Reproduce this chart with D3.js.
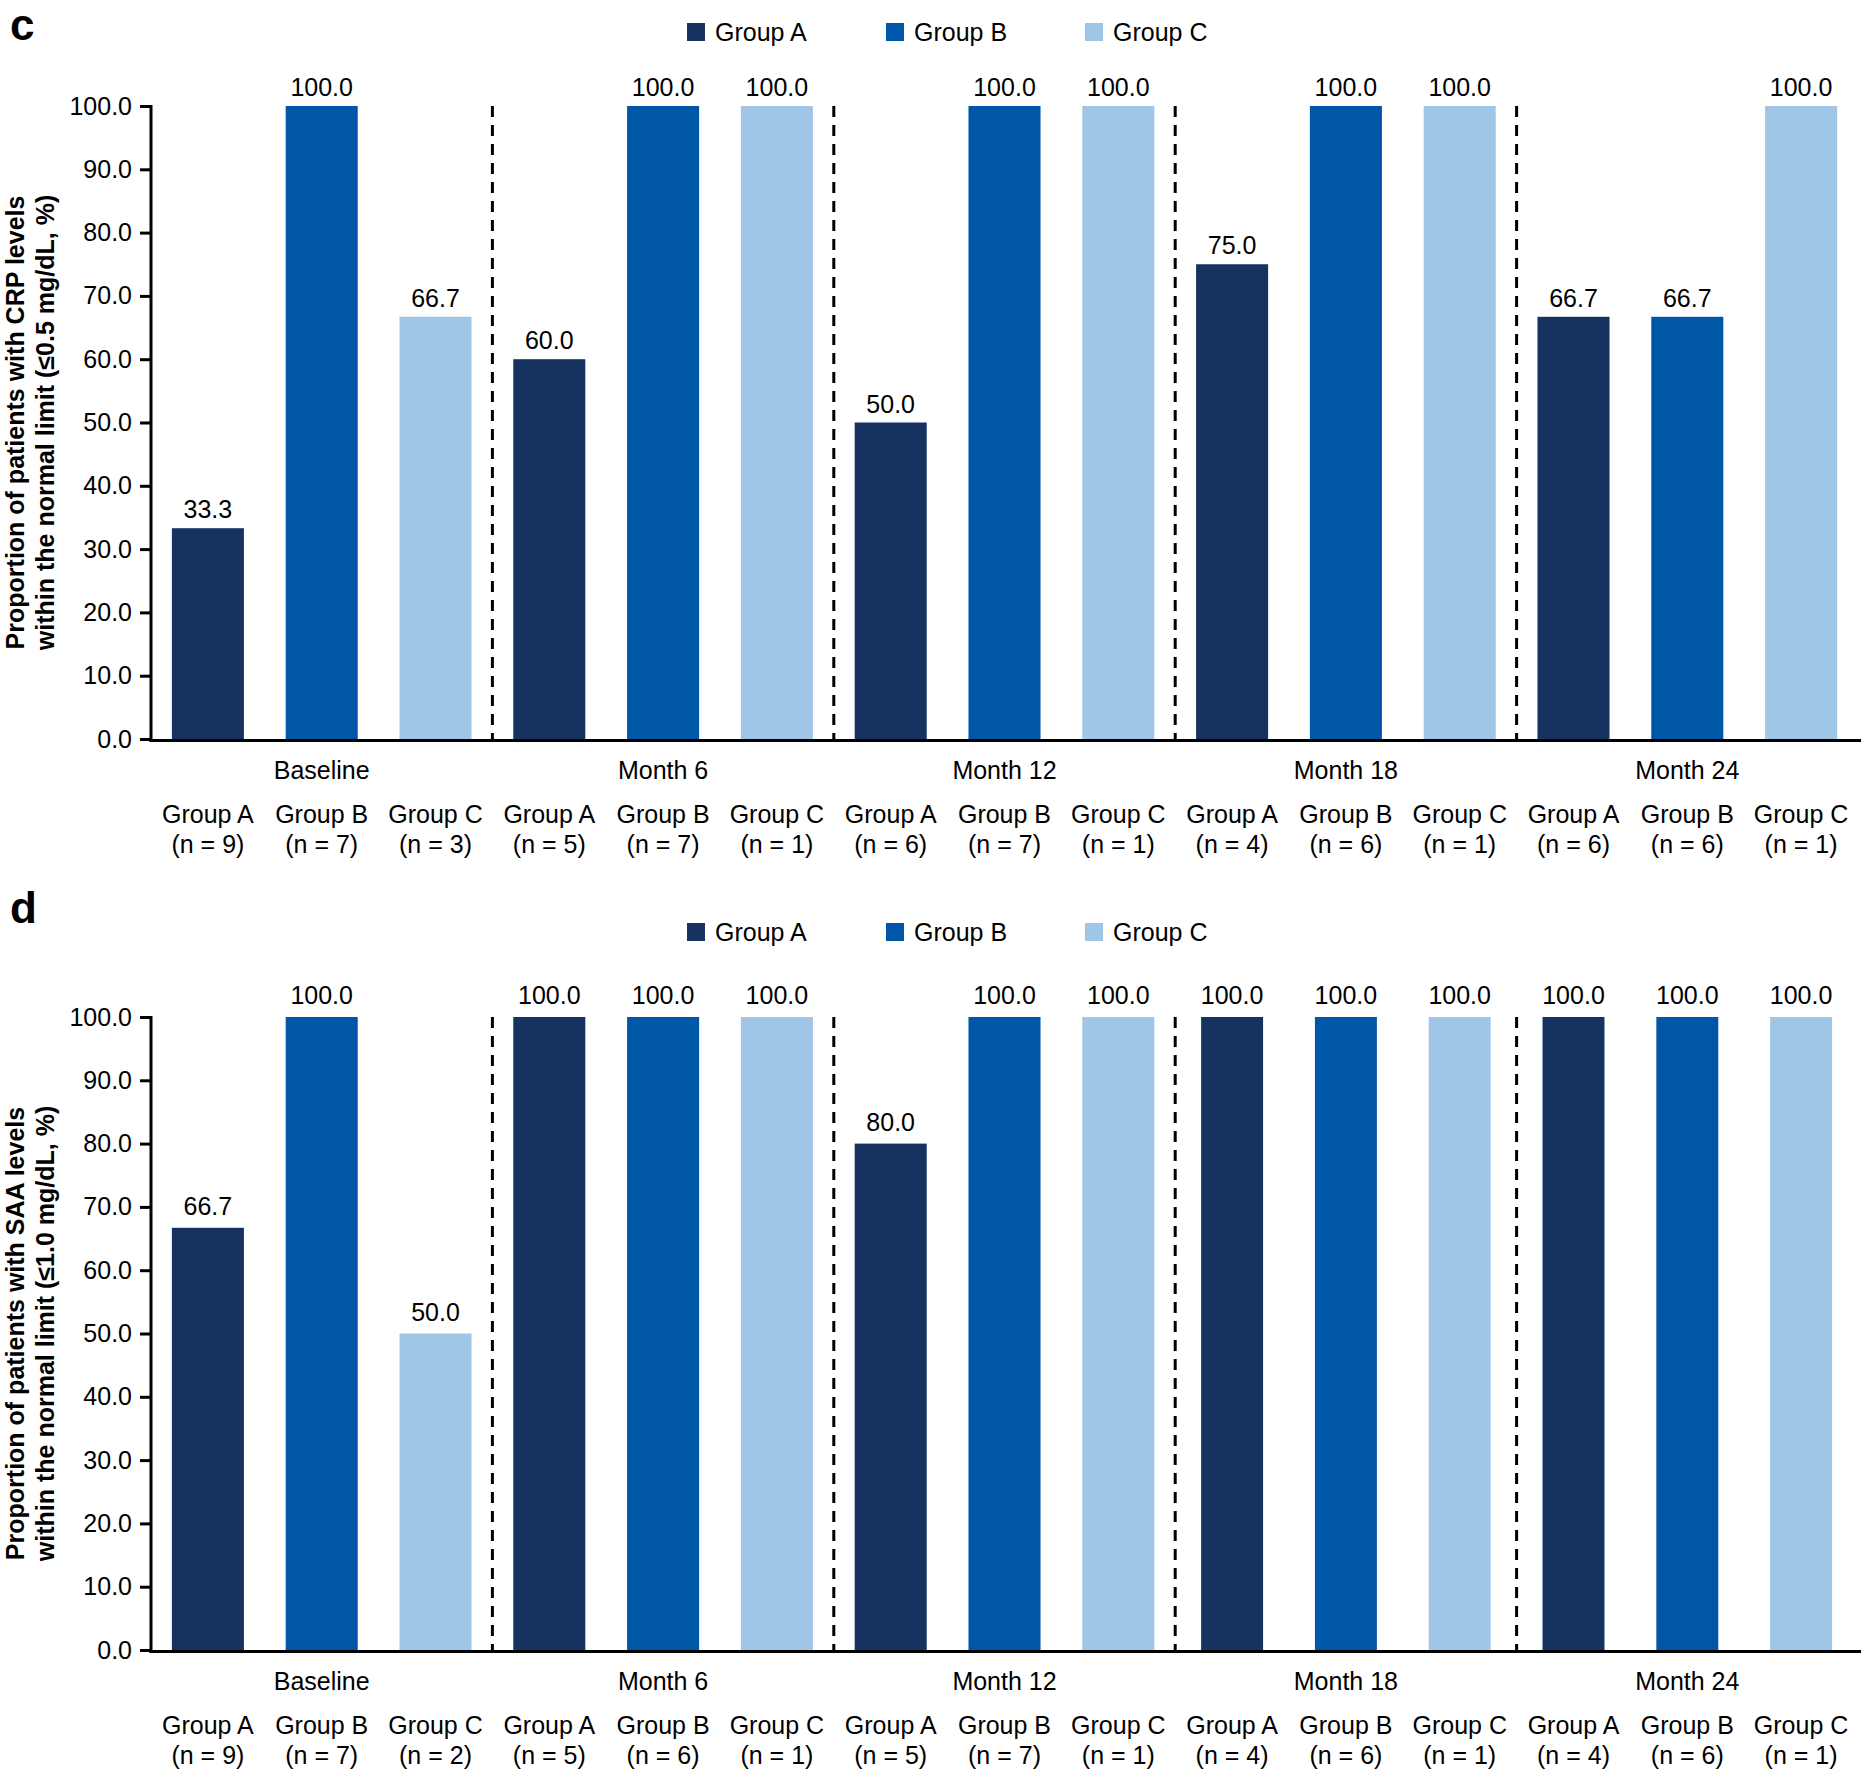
<!DOCTYPE html>
<html>
<head>
<meta charset="utf-8">
<script src="https://d3js.org/d3.v7.min.js"></script>
<style>
  body { margin: 0; background: #fff; }
  svg { display: block; font-family: "Liberation Sans", Arial, sans-serif; }
</style>
</head>
<body>
<div class="vis"></div>
<script>
    // data
    var timepoints = ["Baseline", "Month 6", "Month 12", "Month 18", "Month 24"];
    var groups = ["Group A", "Group B", "Group C"];
    var yTicks = [0, 10, 20, 30, 40, 50, 60, 70, 80, 90, 100];

    var crpValues = [[33.3, 100, 66.7], [60, 100, 100], [50, 100, 100], [75, 100, 100], [66.7, 66.7, 100]];
    var crpN = [[9, 7, 3], [5, 7, 1], [6, 7, 1], [4, 6, 1], [6, 6, 1]];

    var saaValues = [[66.7, 100, 50], [100, 100, 100], [80, 100, 100], [100, 100, 100], [100, 100, 100]];
    var saaN = [[9, 7, 2], [5, 6, 1], [5, 7, 1], [4, 6, 1], [4, 6, 1]];

    var colors = ["#15335e", "#0057a8", "#a0c6e7"];

    var width = 1865, height = 1770;
    var left = 151, right = 1858;

    var svg = d3.select(".vis")
        .append("svg")
        .attr("width", width)
        .attr("height", height)
        .attr("viewBox", [0, 0, width, height]);

    svg.append("rect")
        .attr("width", "100%")
        .attr("height", "100%")
        .attr("fill", "#fff");

    var color = d3.scaleOrdinal(groups, colors);

    var x0 = d3.scaleBand()
        .domain(timepoints)
        .range([left, right]);

    var x1 = d3.scaleBand()
        .domain(groups)
        .range([0, x0.bandwidth()])
        .paddingInner(0.367)
        .paddingOuter(0.1835);

    var panels = [
        { letter: "c", values: crpValues, n: crpN, top: 106, bottom: 739, legendY: 32, letterY: 40, labelGap: 10,
          title: ["Proportion of patients with CRP levels", "within the normal limit (\u22640.5 mg/dL, %)"], narrow: [] },
        { letter: "d", values: saaValues, n: saaN, top: 1017, bottom: 1650, legendY: 932, letterY: 923, labelGap: 13,
          title: ["Proportion of patients with SAA levels", "within the normal limit (\u22641.0 mg/dL, %)"], narrow: ["Month 18", "Month 24"] }
    ];

    panels.forEach(function (p) {
        var g = svg.append("g");

        var y = d3.scaleLinear()
            .domain([0, 100])
            .range([p.bottom, p.top]);

        // panel letter
        g.append("text")
            .attr("x", 10)
            .attr("y", p.letterY)
            .attr("font-size", 44)
            .attr("font-weight", "bold")
            .text(p.letter);

        // legend
        var legend = g.append("g")
            .selectAll("g")
            .data(groups)
            .join("g")
            .attr("transform", (d, i) => `translate(${687 + i * 199},${p.legendY})`);
        legend.append("rect")
            .attr("x", 0)
            .attr("y", -9)
            .attr("width", 18)
            .attr("height", 18)
            .attr("fill", d => color(d));
        legend.append("text")
            .attr("x", 28)
            .attr("y", 0)
            .attr("dy", "0.35em")
            .attr("font-size", 25)
            .text(d => d);

        // flat rows
        var rows = [];
        timepoints.forEach(function (t, i) {
            groups.forEach(function (grp, j) {
                rows.push({ time: t, group: grp, value: p.values[i][j], n: p.n[i][j] });
            });
        });

        var bw = d => p.narrow.indexOf(d.time) >= 0 ? x1.bandwidth() * 0.86 : x1.bandwidth();
        var cx = d => x0(d.time) + x1(d.group) + x1.bandwidth() / 2;

        // dashed separators
        g.append("g")
            .selectAll("line")
            .data(timepoints.slice(1))
            .join("line")
            .attr("x1", d => x0(d))
            .attr("x2", d => x0(d))
            .attr("y1", y(100))
            .attr("y2", y(0))
            .attr("stroke", "#000")
            .attr("stroke-width", 3)
            .attr("stroke-dasharray", "11,8");

        // bars
        g.append("g")
            .selectAll("rect")
            .data(rows)
            .join("rect")
            .attr("x", d => cx(d) - bw(d) / 2)
            .attr("width", bw)
            .attr("y", d => y(d.value))
            .attr("height", d => y(0) - y(d.value))
            .attr("fill", d => color(d.group));

        // value labels
        g.append("g")
            .selectAll("text")
            .data(rows)
            .join("text")
            .attr("x", cx)
            .attr("y", d => y(d.value) - p.labelGap)
            .attr("text-anchor", "middle")
            .attr("font-size", 25)
            .text(d => d3.format(".1f")(d.value));

        // y axis
        var yAxis = g.append("g")
            .attr("transform", `translate(${left},0)`)
            .call(d3.axisLeft(y).tickValues(yTicks).tickFormat(d3.format(".1f")).tickSize(11).tickPadding(8));
        yAxis.select(".domain")
            .attr("d", `M0,${y(100) - 1}V${y(0) + 3}`)
            .attr("stroke-width", 3);
        yAxis.selectAll(".tick line").attr("stroke-width", 3);
        yAxis.selectAll(".tick text")
            .attr("font-size", 25)
            .attr("font-family", "Liberation Sans, Arial, sans-serif")
            .attr("fill", "#000");

        // x axis line
        g.append("line")
            .attr("x1", left - 1.5)
            .attr("x2", 1861)
            .attr("y1", y(0) + 1.5)
            .attr("y2", y(0) + 1.5)
            .attr("stroke", "#000")
            .attr("stroke-width", 3);

        // timepoint labels
        g.append("g")
            .selectAll("text")
            .data(timepoints)
            .join("text")
            .attr("x", d => x0(d) + x0.bandwidth() / 2)
            .attr("y", p.bottom + 40)
            .attr("text-anchor", "middle")
            .attr("font-size", 25)
            .text(d => d);

        // group + n labels
        var lab = g.append("g")
            .selectAll("text")
            .data(rows)
            .join("text")
            .attr("x", cx)
            .attr("text-anchor", "middle")
            .attr("font-size", 25);
        lab.append("tspan")
            .attr("x", cx)
            .attr("y", p.bottom + 84)
            .text(d => d.group);
        lab.append("tspan")
            .attr("x", cx)
            .attr("y", p.bottom + 114)
            .text(d => `(n = ${d.n})`);

        // y title
        var mid = (p.top + p.bottom) / 2;
        g.append("text")
            .attr("transform", `translate(0,${mid}) rotate(-90)`)
            .attr("text-anchor", "middle")
            .attr("font-size", 25)
            .attr("font-weight", "bold")
            .selectAll("tspan")
            .data(p.title)
            .join("tspan")
            .attr("x", 0)
            .attr("y", (d, i) => 24 + i * 30)
            .text(d => d);
    });
</script>
</body>
</html>
